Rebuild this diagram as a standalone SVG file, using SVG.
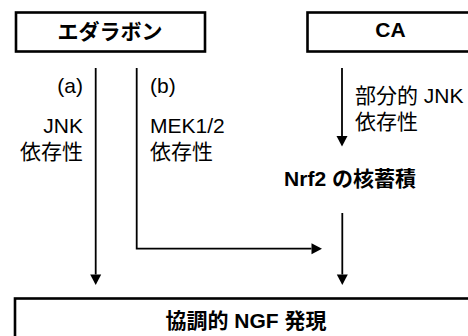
<svg xmlns="http://www.w3.org/2000/svg" width="468" height="336" viewBox="0 0 468 336">
  <style>
    .box { fill: #ffffff; stroke: #000000; stroke-width: 2.6; }
    .t { font-family: "Liberation Sans", "Noto Sans CJK JP", sans-serif; font-size: 21px; fill: #000000; }
    .b { font-weight: bold; }
    .c { text-anchor: middle; }
    .e { text-anchor: end; }
    .ln { fill: none; stroke: #000000; stroke-width: 1.8; }
  </style>
  <defs>
    <marker id="arr" markerUnits="userSpaceOnUse" markerWidth="11" markerHeight="12" refX="0" refY="5.5" orient="auto" overflow="visible">
      <path d="M0,0 L10.5,5.5 L0,11 Z" fill="#000000"/>
    </marker>
  </defs>
  <rect x="0" y="0" width="468" height="336" fill="#ffffff"/>

  <g id="edaravone">
    <rect class="box" x="16" y="12.5" width="189" height="39"/>
    <text class="t b c" x="110" y="39">エダラボン</text>
  </g>

  <g id="ca">
    <rect class="box" x="307.5" y="12.5" width="166" height="39"/>
    <text class="t b c" x="390.5" y="36.7">CA</text>
  </g>

  <g id="nrf2">
    <text class="t b c" x="350" y="186.3">Nrf2 の核蓄積</text>
  </g>

  <g id="ngf">
    <rect class="box" x="15" y="298.5" width="462" height="50"/>
    <text class="t b c" x="246" y="328">協調的 NGF 発現</text>
  </g>

  <g id="connectors">
    <path class="ln" d="M95.7,68 V274.5" marker-end="url(#arr)"/>
    <path class="ln" d="M136.7,68 V248.7 H311.5" marker-end="url(#arr)"/>
    <path class="ln" d="M342,68 V136" marker-end="url(#arr)"/>
    <path class="ln" d="M342.3,213 V274.5" marker-end="url(#arr)"/>
  </g>

  <g id="labels">
    <text class="t e" x="83" y="93">(a)</text>
    <text class="t e" x="83" y="133.3">JNK</text>
    <text class="t e" x="83" y="158.5">依存性</text>
    <text class="t" x="150" y="93">(b)</text>
    <text class="t" x="150" y="133.3">MEK1/2</text>
    <text class="t" x="150" y="158.5">依存性</text>
    <text class="t" x="355" y="103">部分的 JNK</text>
    <text class="t" x="355" y="129">依存性</text>
  </g>
</svg>
